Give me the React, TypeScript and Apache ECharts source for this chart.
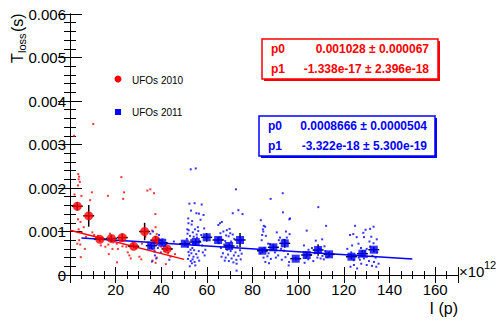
import React, { useEffect, useRef } from "react";
import * as echarts from "echarts";

// ---- data (x in units of 1e12 protons, y in seconds) ----
const redDots: number[][] = [
  [1.8, 0.0032], [10.2, 0.00347],
  [3.6, 0.00232], [4.0, 0.00226], [3.8, 0.0022], [4.3, 0.00214], [3.5, 0.00206],
  [2.0, 0.00185], [5.0, 0.00182], [9.6, 0.0019], [8.8, 0.00172], [16.6, 0.00182],
  [22.5, 0.00225], [23.7, 0.0019], [23.3, 0.00175],
  [3.5, 0.00128], [4.6, 0.00122], [6.0, 0.0011], [3.8, 0.00105], [5.2, 0.00098],
  [7.0, 0.00088], [4.0, 0.0008], [3.2, 0.00072], [4.5, 0.0007], [6.5, 0.0006], [4.7, 0.00041],
  [9.8, 0.00098], [10.6, 0.00092], [11.5, 0.00085], [12.2, 0.0009], [14.0, 0.00085],
  [15.5, 0.00065], [13.5, 0.00068], [16.8, 0.0007], [17.5, 0.00095], [18.6, 0.0006],
  [19.0, 0.00075], [20.5, 0.00072], [20.6, 0.00029], [17.0, 0.00048], [21.0, 0.0006],
  [22.0, 0.00078], [23.0, 0.00066], [24.7, 0.00065], [25.3, 0.00052], [26.0, 0.00045],
  [26.6, 0.00038], [27.5, 0.00072], [29.0, 0.00062], [30.4, 0.00042], [31.2, 0.00036],
  [31.5, 0.00072], [33.0, 0.00088], [34.0, 0.00075], [35.0, 0.00062],
  [33.9, 0.00194], [35.2, 0.00197], [36.8, 0.00188], [37.4, 0.0014], [37.5, 0.0011],
  [36.0, 0.00102], [38.0, 0.00094], [38.5, 0.00084], [39.5, 0.00072], [37.0, 0.00055],
  [38.0, 0.0004], [40.0, 0.00065], [41.5, 0.00055], [43.0, 0.0005], [44.0, 0.00042],
  [46.0, 0.00048], [42.0, 0.00025], [37.5, 0.00028], [36.2, 0.00033],
];

const blueDots: number[][] = [
  // around 35-46
  [34.5, 0.00068], [35.2, 0.00095], [36.4, 0.001], [37.4, 0.00088], [36.8, 0.00075],
  [37.0, 0.00054], [37.2, 0.00045], [37.8, 0.00038], [38.5, 0.00062], [39.0, 0.00092],
  [39.8, 0.00052], [40.5, 0.00082], [41.2, 0.00066], [42.0, 0.00071], [36.0, 0.0006],
  [38.2, 0.0007], [44.5, 0.0006], [45.5, 0.00077], [43.5, 0.00035], [35.9, 0.00031],
  // around 50-59
  [52.9, 0.00243], [55.1, 0.00245],
  [52.3, 0.00164], [54.6, 0.00165], [57.7, 0.00162], [53.0, 0.00148], [55.4, 0.00142],
  [56.5, 0.00141], [58.5, 0.00138], [51.8, 0.0013], [57.2, 0.00127], [53.5, 0.00124],
  [51.9, 0.00119], [53.3, 0.00116], [56.0, 0.0011], [58.8, 0.00107], [54.8, 0.00105],
  [52.0, 0.00103], [56.2, 0.00101], [53.8, 0.00098], [51.5, 0.00095], [55.5, 0.00093],
  [57.5, 0.00092], [52.6, 0.0009], [54.2, 0.00088], [55.6, 0.00086], [51.2, 0.00083],
  [53.1, 0.0008], [56.8, 0.00078], [52.4, 0.00075], [54.0, 0.00073], [55.0, 0.0007],
  [57.9, 0.00068], [51.6, 0.00065], [53.6, 0.00062], [52.8, 0.00058], [54.4, 0.00057],
  [56.4, 0.00055], [51.9, 0.00053], [58.2, 0.00052], [53.2, 0.0005], [55.3, 0.00048],
  [52.2, 0.00045], [54.1, 0.00042], [55.9, 0.0004], [51.7, 0.00037], [53.7, 0.00036],
  [52.9, 0.00032], [54.6, 0.0003], [56.6, 0.00033], [53.4, 0.00027], [54.9, 0.00022],
  [52.5, 0.0002], [59.0, 0.00045], [59.3, 0.00058], [51.4, 0.00105],
  // around 64-77
  [72.7, 0.00197], [71.3, 0.00142], [73.8, 0.00149], [75.6, 0.0014],
  [65.7, 0.00119], [65.0, 0.00115], [66.5, 0.00122], [68.7, 0.00103], [69.9, 0.00106],
  [67.2, 0.001], [65.9, 0.00096], [70.2, 0.00096], [68.4, 0.00091], [65.6, 0.00086],
  [69.5, 0.00089], [71.3, 0.00093], [66.8, 0.00081], [68.0, 0.00078], [70.6, 0.00077],
  [72.0, 0.00083], [65.2, 0.00073], [67.6, 0.0007], [69.0, 0.00067], [71.0, 0.00064],
  [73.3, 0.00066], [66.1, 0.00062], [68.9, 0.00058], [70.4, 0.00055], [72.5, 0.00052],
  [74.5, 0.00057], [67.0, 0.0005], [69.3, 0.00047], [71.8, 0.00045], [73.8, 0.00044],
  [75.2, 0.00049], [66.4, 0.00042], [68.2, 0.0004], [70.8, 0.00038], [72.9, 0.00035],
  [74.8, 0.00036], [69.6, 0.00032], [71.6, 0.00029], [67.8, 0.00033], [73.0, 0.00026],
  [73.0, 0.0001],
  // around 83-97
  [87.9, 0.00175], [93.2, 0.00188], [83.6, 0.00126], [93.3, 0.00144], [96.1, 0.00128],
  [84.9, 0.00113], [85.5, 0.00111], [84.5, 0.00105], [84.7, 0.001], [84.2, 0.00092],
  [85.8, 0.0009], [84.0, 0.0008], [86.8, 0.00072], [87.6, 0.00071], [90.6, 0.00098],
  [91.5, 0.0008], [92.0, 0.00086], [93.5, 0.00081], [95.0, 0.00086], [96.2, 0.00094],
  [94.6, 0.001], [85.2, 0.00062], [86.0, 0.00055], [87.0, 0.0005], [88.5, 0.00058],
  [89.8, 0.00052], [91.2, 0.00045], [92.5, 0.0006], [93.8, 0.00056], [95.5, 0.00048],
  [84.8, 0.0004], [86.5, 0.00043], [88.0, 0.00037], [90.2, 0.0004], [92.8, 0.00035],
  [94.4, 0.00041], [96.0, 0.0003], [85.6, 0.0003], [87.2, 0.00027], [83.5, 0.0005],
  [95.8, 0.00022],
  // around 102-113
  [96.4, 0.0013], [103.7, 0.00102], [108.8, 0.00156], [112.2, 0.00113], [107.7, 0.00079],
  [102.5, 0.00068], [104.5, 0.00058], [106.0, 0.00062], [105.5, 0.00046], [110.5, 0.00082],
  [111.5, 0.00066], [109.5, 0.0006], [107.2, 0.0005], [103.2, 0.0004], [104.4, 0.00036],
  [108.4, 0.0004], [109.8, 0.00038], [110.6, 0.00044], [111.2, 0.00036], [112.8, 0.00041],
  [106.6, 0.00032], [102.8, 0.00028], [111.8, 0.00055], [113.0, 0.00048],
  // around 122-135
  [124.9, 0.00113], [129.5, 0.00104], [128.5, 0.00097], [131.5, 0.00106], [133.0, 0.00111],
  [132.0, 0.00088], [122.7, 0.00092], [124.1, 0.00094], [125.6, 0.00087], [128.8, 0.00087],
  [131.2, 0.00077], [133.0, 0.00073], [134.4, 0.00082], [123.6, 0.00068], [126.4, 0.00072],
  [127.5, 0.00062], [130.0, 0.0006], [131.5, 0.00065], [129.2, 0.00054], [134.6, 0.00052],
  [123.2, 0.00052], [125.0, 0.00045], [126.5, 0.0004], [130.1, 0.00042], [132.5, 0.00044],
  [133.9, 0.0004], [127.0, 0.00035], [128.8, 0.00038], [124.3, 0.00034], [131.0, 0.00032],
  [133.2, 0.0003], [122.9, 0.00019], [124.4, 0.00023], [127.6, 0.00026], [130.0, 0.00023],
  [132.3, 0.00021], [134.2, 0.00019], [135.2, 0.00026], [125.8, 0.00015], [121.5, 0.0006],
];

// profile points: [x, y, xErr, yErr]
const redProfile: number[][] = [
  [3.2, 0.00158, 2.4, 0.0001],
  [8.2, 0.00136, 2.4, 0.00025],
  [13.1, 0.00082, 2.4, 0.00005],
  [18.1, 0.00084, 2.4, 0.00008],
  [22.9, 0.00086, 2.4, 0.00009],
  [27.9, 0.00066, 2.4, 0.00004],
  [32.7, 0.001, 2.4, 0.0002],
  [37.6, 0.0008, 2.4, 0.00008],
  [42.5, 0.0006, 2.4, 0.00005],
];

const blueProfile: number[][] = [
  [35.6, 0.000674, 2.4, 0.00006],
  [40.4, 0.000743, 2.4, 0.00006],
  [50.3, 0.00072, 2.4, 0.00005],
  [55.1, 0.000759, 2.4, 0.00006],
  [59.9, 0.000866, 2.4, 0.0001],
  [64.9, 0.000805, 2.4, 0.00006],
  [69.7, 0.000667, 2.4, 0.00006],
  [74.5, 0.000805, 2.4, 0.00016],
  [84.3, 0.000559, 2.4, 0.00005],
  [89.1, 0.000636, 2.4, 0.00008],
  [94.1, 0.000728, 2.4, 0.0001],
  [98.9, 0.000375, 2.4, 0.00004],
  [103.7, 0.00046, 2.4, 0.00006],
  [108.7, 0.000575, 2.4, 0.00013],
  [113.5, 0.000475, 2.4, 0.00006],
  [123.3, 0.000421, 2.4, 0.00006],
  [128.1, 0.00049, 2.4, 0.00008],
  [133.1, 0.000582, 2.4, 0.00006],
];

const redFit: number[][] = [[0, 0.001028], [50, 0.000359]];
const blueFit: number[][] = [[5, 0.00085], [150, 0.000368]];

const legendLabels = ["UFOs 2010", "UFOs 2011"];
const redStats = [["p0", "0.001028 \u00b1 0.000067"], ["p1", "-1.338e-17 \u00b1 2.396e-18"]];
const blueStats = [["p0", "0.0008666 \u00b1 0.0000504"], ["p1", "-3.322e-18 \u00b1 5.300e-19"]];

const RED = "#ff0000";
const BLUE = "#0000ff";
const FONT = "'Liberation Sans', Arial, Helvetica, sans-serif";

function errorBarRender(params: any, api: any) {
  const x = api.value(0), y = api.value(1), ex = api.value(2), ey = api.value(3);
  const l = api.coord([x - ex, y]);
  const r = api.coord([x + ex, y]);
  const t = api.coord([x, y + ey]);
  const b = api.coord([x, y - ey]);
  const st = { stroke: "#000", lineWidth: 1.5 };
  return {
    type: "group",
    children: [
      { type: "line", shape: { x1: l[0], y1: l[1], x2: r[0], y2: r[1] }, style: st },
      { type: "line", shape: { x1: t[0], y1: t[1], x2: b[0], y2: b[1] }, style: st },
    ],
  };
}

function statBox(x: number, y: number, w: number, h: number, color: string, rows: string[][], valRight: number) {
  const children: any[] = [
    { type: "rect", shape: { x: x + 2, y: y + 2, width: w, height: h }, style: { fill: color } },
    { type: "rect", shape: { x, y, width: w, height: h }, style: { fill: "#fff", stroke: color, lineWidth: 1.5 } },
  ];
  rows.forEach((row, i) => {
    const cy = y + 10 + i * 20;
    children.push({
      type: "text", x: x + 9, y: cy,
      style: { text: row[0], fill: color, font: `bold 12px ${FONT}`, textAlign: "left", textVerticalAlign: "middle" },
    });
    children.push({
      type: "text", x: valRight, y: cy,
      style: { text: row[1], fill: color, font: `bold 12px ${FONT}`, textAlign: "right", textVerticalAlign: "middle" },
    });
  });
  return { type: "group", children };
}

export default function App() {
  const ref = useRef<HTMLDivElement>(null);
  useEffect(() => {
    if (!ref.current) return;
    const chart = echarts.init(ref.current, null, { renderer: "svg" });
    const axisCommon = {
      axisLine: { lineStyle: { color: "#000", width: 1 } },
      splitLine: { show: false },
    };
    chart.setOption({
      animation: false,
      backgroundColor: "#fff",
      grid: { left: 70, top: 14, width: 388, height: 261, containLabel: false },
      xAxis: [
        {
          type: "value", min: 0, max: 170, interval: 20, position: "bottom",
          ...axisCommon,
          axisTick: { inside: true, length: 8, lineStyle: { color: "#000" } },
          minorTick: { show: true, splitNumber: 4, length: 4, lineStyle: { color: "#000" } },
          axisLabel: { color: "#000", fontSize: 15, fontFamily: FONT, margin: 7, showMaxLabel: false, showMinLabel: false },
        },
        {
          type: "value", min: 0, max: 170, interval: 20, position: "top",
          ...axisCommon,
          axisTick: { inside: true, length: 8, lineStyle: { color: "#000" } },
          minorTick: { show: true, splitNumber: 4, length: 4, lineStyle: { color: "#000" } },
          axisLabel: { show: false },
        },
      ],
      yAxis: [
        {
          type: "value", min: 0, max: 0.006, interval: 0.001, position: "left",
          ...axisCommon,
          axisTick: { inside: true, length: 12, lineStyle: { color: "#000" } },
          minorTick: { show: true, splitNumber: 5, length: 6, lineStyle: { color: "#000" } },
          axisLabel: { color: "#000", fontSize: 15, fontFamily: FONT, margin: 4 },
        },
        {
          type: "value", min: 0, max: 0.006, interval: 0.001, position: "right",
          ...axisCommon,
          axisTick: { inside: true, length: 12, lineStyle: { color: "#000" } },
          minorTick: { show: true, splitNumber: 5, length: 6, lineStyle: { color: "#000" } },
          axisLabel: { show: false },
        },
      ],
      series: [
        {
          type: "scatter", data: redDots, symbol: "rect", symbolSize: 2,
          itemStyle: { color: RED }, silent: true, z: 1,
        },
        {
          type: "scatter", data: blueDots, symbol: "rect", symbolSize: 2,
          itemStyle: { color: BLUE }, silent: true, z: 1,
        },
        {
          type: "line", data: redFit, showSymbol: false, symbol: "none",
          lineStyle: { color: RED, width: 1.5 }, z: 2,
        },
        {
          type: "line", data: blueFit, showSymbol: false, symbol: "none",
          lineStyle: { color: BLUE, width: 1.5 }, z: 2,
        },
        { type: "custom", data: redProfile, renderItem: errorBarRender, encode: { x: 0, y: 1 }, z: 3 },
        { type: "custom", data: blueProfile, renderItem: errorBarRender, encode: { x: 0, y: 1 }, z: 3 },
        {
          type: "scatter", data: redProfile.map((p) => [p[0], p[1]]), symbol: "circle", symbolSize: 9,
          itemStyle: { color: RED }, z: 4,
        },
        {
          type: "scatter", data: blueProfile.map((p) => [p[0], p[1]]), symbol: "rect", symbolSize: 8,
          itemStyle: { color: BLUE }, z: 5,
        },
      ],
      graphic: [
        // y-axis title
        {
          type: "group", x: 17, y: 63, rotation: Math.PI / 2,
          children: [
            { type: "text", x: 0, y: 0, style: { text: "T", fill: "#000", font: `16px ${FONT}`, textAlign: "left", textVerticalAlign: "middle" } },
            { type: "text", x: 10, y: 5, style: { text: "loss", fill: "#000", font: `11px ${FONT}`, textAlign: "left", textVerticalAlign: "middle" } },
            { type: "text", x: 31, y: 0, style: { text: "(s)", fill: "#000", font: `16px ${FONT}`, textAlign: "left", textVerticalAlign: "middle" } },
          ],
        },
        // x-axis title
        { type: "text", right: 496 - 458, top: 300, style: { text: "I (p)", fill: "#000", font: `16px ${FONT}` } },
        // exponent
        { type: "text", x: 459, y: 271, style: { text: "\u00d710", fill: "#000", font: `15px ${FONT}`, textAlign: "left", textVerticalAlign: "middle" } },
        { type: "text", x: 484, y: 265, style: { text: "12", fill: "#000", font: `11px ${FONT}`, textAlign: "left", textVerticalAlign: "middle" } },
        // legend
        { type: "circle", shape: { cx: 118, cy: 79, r: 3.5 }, style: { fill: RED } },
        { type: "text", x: 132, y: 80, style: { text: legendLabels[0], fill: "#000", font: `10px ${FONT}`, textAlign: "left", textVerticalAlign: "middle" } },
        { type: "rect", shape: { x: 115, y: 109, width: 6, height: 6 }, style: { fill: BLUE } },
        { type: "text", x: 132, y: 112, style: { text: legendLabels[1], fill: "#000", font: `10px ${FONT}`, textAlign: "left", textVerticalAlign: "middle" } },
        // stats boxes
        statBox(262, 39, 176, 40, RED, redStats, 429),
        statBox(259, 116, 176, 40, BLUE, blueStats, 427),
      ],
    });
    return () => chart.dispose();
  }, []);
  return <div ref={ref} style={{ position: "fixed", left: 0, top: 0, width: 496, height: 321 }} />;
}
